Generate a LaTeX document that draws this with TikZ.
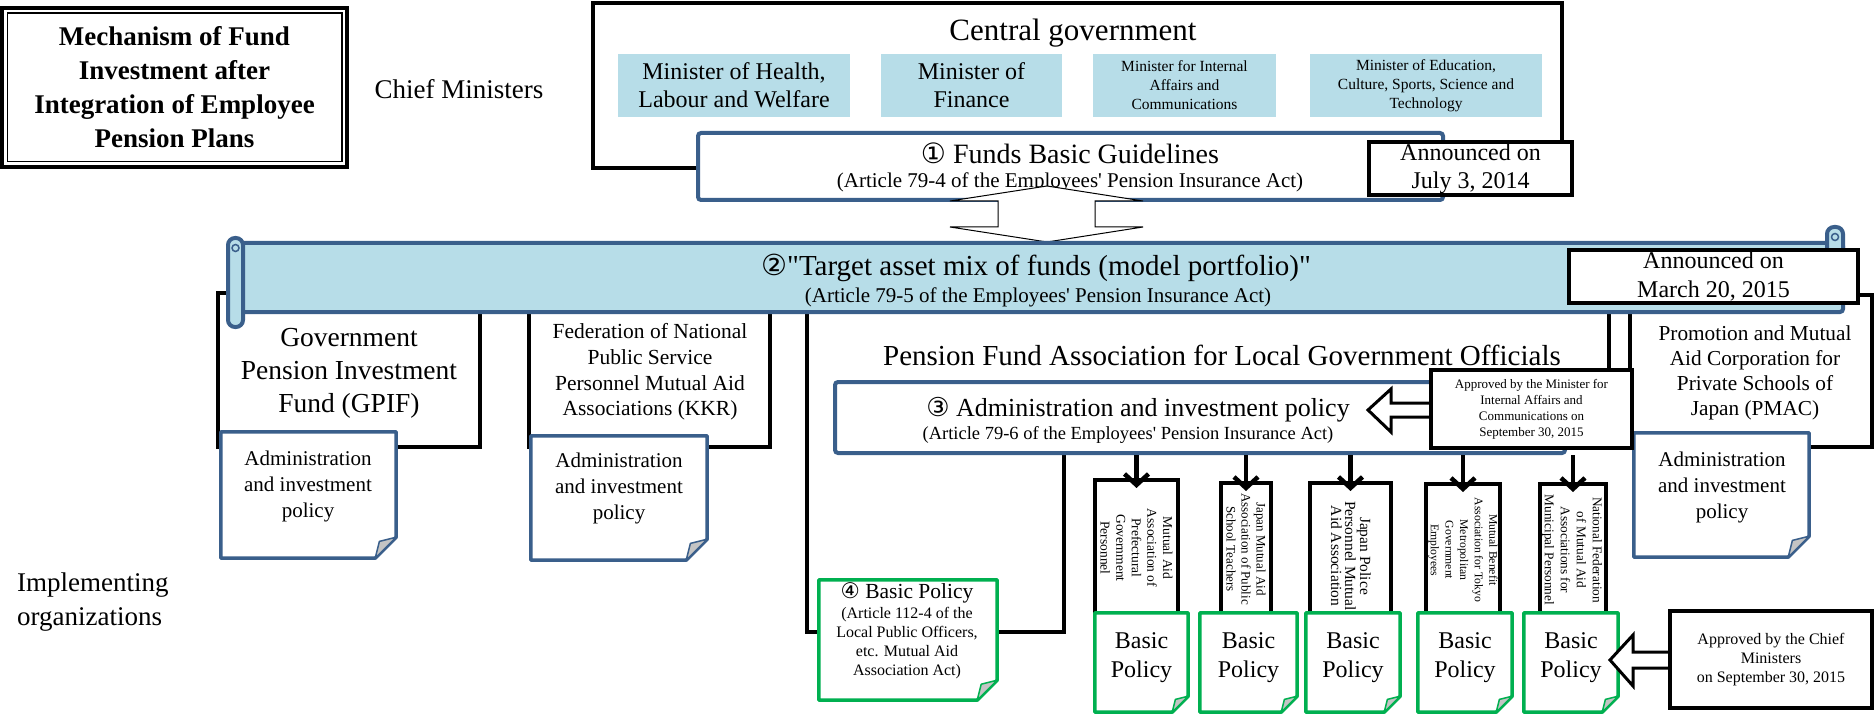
\documentclass[tikz,border=0pt]{standalone}
\usepackage{fontspec}
\setmainfont{Liberation Serif}[Ligatures=TeXOff]
\newfontfamily\circfont{DejaVu Sans}
\usetikzlibrary{arrows.meta,fit}
\definecolor{lblue}{HTML}{B7DDE8}
\definecolor{dblue}{HTML}{3A5F8B}
\definecolor{dgreen}{HTML}{00B050}
\definecolor{foldgray}{HTML}{C4C4C4}
\newcommand\fs[2]{\fontsize{#1}{#2}\selectfont}
\newcommand\dognote[5]{%
  \node[fit={#4 #5},inner sep=0pt,fill=white] (#1) {};
  \draw[draw=#2,line width=3.5pt,line join=round] (#1.north west) -- (#1.north east) -- ([yshift=#3]#1.south east) -- ([xshift=-#3]#1.south east) -- (#1.south west) -- cycle;
  \draw[draw=#2,line width=1.5pt,fill=foldgray,line join=round] ([yshift=#3]#1.south east) -- ([xshift=-#3]#1.south east) -- ([xshift=-0.8*#3,yshift=0.8*#3]#1.south east) -- cycle;}
\begin{document}
\begin{tikzpicture}[x=1pt,y=-1pt,
  blk/.style={draw=black,line width=4pt},
  minbox/.style={fill=lblue,inner sep=0pt,align=center},
  bluefr/.style={draw=dblue,line width=4pt},
  txt/.style={inner sep=0pt,align=center},
  vtxt/.style={inner sep=0pt,align=center,rotate=-90},
  darr/.style={line width=4.5pt,-{Straight Barb[length=11pt,width=24pt]},shorten >=-10pt},
  barrow/.style={draw=black,fill=white,line width=3pt,line join=miter},
  datebox/.style={draw=black,line width=3.5pt,fill=white,inner sep=0pt,align=center}]
\useasboundingbox (0,0) rectangle (1874,714);

% title
\node[fit={(2,8) (347,167)},inner sep=0pt,draw,line width=3.5pt] (title) {};
\draw[line width=1.5pt] ([shift={(7pt,-7pt)}]title.north west) rectangle ([shift={(-7pt,7pt)}]title.south east);
\node[txt,font=\bfseries\fs{27}{34}] (titletxt) at (title.center) {Mechanism of Fund\\Investment after\\Integration of Employee\\Pension Plans};
\node[txt,font=\fs{27}{32}] (chief) at (459,89) {Chief Ministers};
\node[inner sep=0pt,align=left,anchor=west,font=\fs{27}{34}] (impl) at (17,602) {Implementing\\organizations};

% central government
\node[fit={(593,3) (1562,168)},inner sep=0pt,blk] (central) {};
\node[txt,font=\fs{31}{36}] (centraltxt) at (1073,33) {Central government};
\node[minbox,minimum width=232,minimum height=63,font=\fs{24}{28}] (mhlw) at (734,85.5) {Minister of Health,\\Labour and Welfare};
\node[minbox,minimum width=181,minimum height=63,font=\fs{24}{28}] (mof) at (971.5,85.5) {Minister of\\Finance};
\node[minbox,minimum width=183,minimum height=63,font=\fs{15.5}{19}] (mic) at (1184.5,85.5) {Minister for Internal\\Affairs and\\Communications};
\node[minbox,minimum width=232,minimum height=63,font=\fs{15.5}{19}] (mext) at (1426,85.5) {Minister of Education,\\Culture, Sports, Science and\\Technology};

% box 1
\node[fit={(698,133) (1443,200)},inner sep=0pt,bluefr,fill=white,rounded corners=3pt] (b1) {};
\node[txt,font=\fs{28}{32}] (b1t) at (1070,153) {{\circfont ①} Funds Basic Guidelines};
\node[txt,font=\fs{21}{24}] (b1a) at (1070,182) {(Article 79-4 of the Employees' Pension Insurance Act)};
\node[datebox,minimum width=203,minimum height=53,font=\fs{24}{28}] (july) at (1470.5,168.5) {Announced on\\July 3, 2014};

% up-down arrow between box 1 and box 2
\draw[draw=black,fill=white,line width=1pt] (1047,186) -- (1143,201) -- (1095,201) -- (1095,227) -- (1143,227) -- (1047,242) -- (950,227) -- (998,227) -- (998,201) -- (950,201) -- cycle;

% organisations
\node[fit={(218,293) (480,447)},inner sep=0pt,blk,fill=white] (gpif) {};
\node[txt,font=\fs{27.5}{33}] (gpift) at (349,373) {Government\\Pension Investment\\Fund (GPIF)};
\node[fit={(529,293) (770,447)},inner sep=0pt,blk,fill=white] (kkr) {};
\node[txt,font=\fs{21.5}{25.7}] (kkrt) at (650,372) {Federation of National\\Public Service\\Personnel Mutual Aid\\Associations (KKR)};
\draw[blk,line join=miter] (807,300) -- (807,632) -- (1064,632) -- (1064,445) -- (1609,445) -- (1609,300) -- cycle;
\node[txt,font=\fs{29}{34}] (pfat) at (1222,355) {Pension Fund Association for Local Government Officials};
\node[fit={(1630,295) (1872,447)},inner sep=0pt,draw,line width=3.5pt,fill=white] (pmac) {};
\node[txt,font=\fs{21.3}{25}] (pmact) at (1755,372.5) {Promotion and Mutual\\Aid Corporation for\\Private Schools of\\Japan (PMAC)};

% box 2 (scroll)
\node[fit={(236,243) (1843,312)},inner sep=0pt,bluefr,fill=lblue,rounded corners=3pt] (b2) {};
\draw[dblue,fill=lblue,line width=4pt,rounded corners=7pt] (228,238) rectangle (243,327);
\draw[dblue,line width=1.5pt] (235.5,248) circle (3.5);
\draw[dblue,fill=lblue,line width=4pt,rounded corners=7pt] (1827,227) rectangle (1843,262);
\draw[dblue,line width=1.5pt] (1835,237) circle (3.5);
\node[txt,font=\fs{29}{34}] (b2t) at (1036,268) {{\circfont ②}"Target asset mix of funds (model portfolio)"};
\node[txt,font=\fs{21}{24}] (b2a) at (1038,297) {(Article 79-5 of the Employees' Pension Insurance Act)};
\node[datebox,minimum width=289,minimum height=53,font=\fs{24}{29}] (march) at (1713.5,276.5) {Announced on\\March 20, 2015};

% administration and investment policy notes
\dognote{gpifn}{dblue}{21pt}{(221,432)}{(396,558)}
\node[txt,font=\fs{21}{26}] (gpifnt) at (308,486) {Administration\\and investment\\policy};
\dognote{kkrn}{dblue}{21pt}{(531,436)}{(707,560)}
\node[txt,font=\fs{21}{26}] (kkrnt) at (619,488.5) {Administration\\and investment\\policy};
\dognote{pmacn}{dblue}{21pt}{(1634,433)}{(1809,557)}
\node[txt,font=\fs{21}{26}] (pmacnt) at (1722,487) {Administration\\and investment\\policy};

% box 3
\node[fit={(835,382) (1565,453)},inner sep=0pt,bluefr,fill=white,rounded corners=3pt] (b3) {};
\node[txt,font=\fs{26}{30}] (b3t) at (1138,410) {{\circfont ③} Administration and investment policy};
\node[txt,font=\fs{18.5}{22}] (b3a) at (1128,435) {(Article 79-6 of the Employees' Pension Insurance Act)};
\draw[barrow] (1434,403) -- (1391,403) -- (1391,389) -- (1368,410) -- (1391,432) -- (1391,417) -- (1434,417) -- cycle;
\node[datebox,minimum width=201,minimum height=78,font=\fs{13}{16}] (apmin) at (1531.5,409) {Approved by the Minister for\\Internal Affairs and\\Communications on\\September 30, 2015};

% associations
\node[fit={(1095,480) (1178,625)},inner sep=0pt,blk,fill=white] (a1) {};
\node[fit={(1221,483) (1271,625)},inner sep=0pt,blk,fill=white] (a2) {};
\node[fit={(1310,483) (1391,625)},inner sep=0pt,blk,fill=white] (a3) {};
\node[fit={(1426,484) (1500,625)},inner sep=0pt,blk,fill=white] (a4) {};
\node[fit={(1540,484) (1606,625)},inner sep=0pt,blk,fill=white] (a5) {};
\node[vtxt,font=\fs{13.5}{15.6}] (a1t) at (1136.5,548) {Mutual Aid\\Association of\\Prefectural\\Government\\Personnel};
\node[vtxt,font=\fs{13}{15}] (a2t) at (1246,549) {Japan Mutual Aid\\Association of Public\\School Teachers};
\node[vtxt,font=\fs{15.5}{14}] (a3t) at (1351,556) {Japan Police\\Personnel Mutual\\Aid Association};
\node[vtxt,font=\fs{11.7}{14.6}] (a4t) at (1463,550) {Mutual Benefit\\Association for Tokyo\\Metropolitan\\Government\\Employees};
\node[vtxt,font=\fs{13.3}{16}] (a5t) at (1572,550) {National Federation\\of Mutual Aid\\Associations for\\Municipal Personnel};
\foreach \a in {a1,a2,a3,a4,a5} \draw[darr] (b3.south -| \a.north) -- (\a.north);

% basic policy notes
\dognote{bp4n}{dgreen}{20pt}{(819,580)}{(997,700)}
\node[txt,font=\fs{21.5}{24}] (bp4t) at (907,593) {{\circfont ④} Basic Policy};
\node[txt,font=\fs{16}{19}] (bp4a) at (907,643.5) {(Article 112-4 of the\\Local Public Officers,\\etc. Mutual Aid\\Association Act)};
\dognote{bp1}{dgreen}{16pt}{(1095,613)}{(1188,712)}
\dognote{bp2}{dgreen}{16pt}{(1200,613)}{(1297,712)}
\dognote{bp3}{dgreen}{16pt}{(1306,613)}{(1400,712)}
\dognote{bp5}{dgreen}{16pt}{(1418,613)}{(1512,712)}
\dognote{bp6}{dgreen}{16pt}{(1524,613)}{(1618,712)}
\foreach \b in {bp1,bp2,bp3,bp5,bp6} \node[txt,font=\fs{24}{29}] (\b t) at ([yshift=5pt]\b.center) {Basic\\Policy};

% approved by chief ministers
\draw[barrow] (1672,652) -- (1633,652) -- (1633,635) -- (1610,660) -- (1633,686) -- (1633,668) -- (1672,668) -- cycle;
\node[datebox,minimum width=202,minimum height=97,font=\fs{16}{19}] (apchief) at (1771,659.5) {Approved by the Chief\\Ministers\\on September 30, 2015};
\end{tikzpicture}
\end{document}
